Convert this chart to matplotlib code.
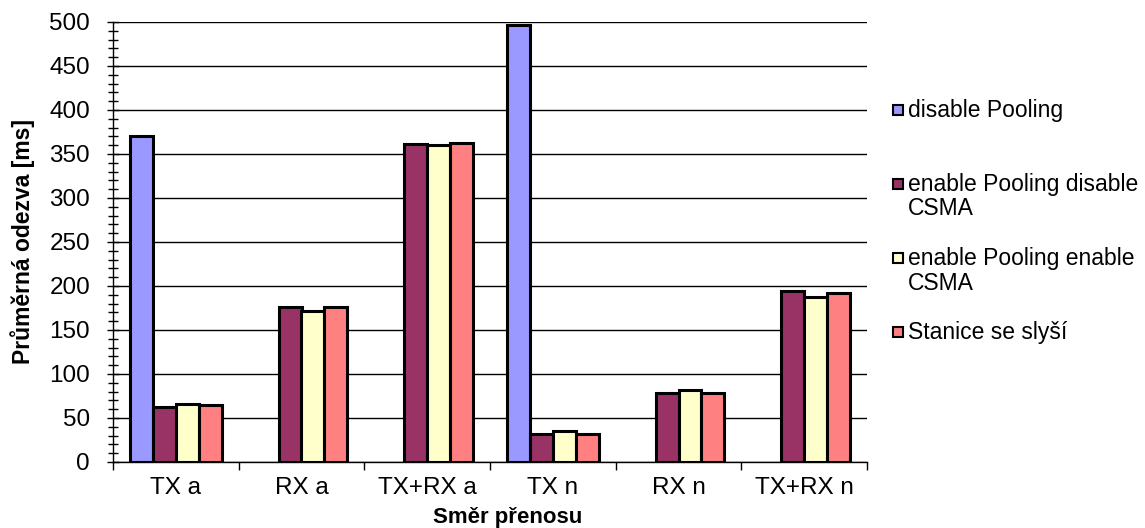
import numpy as np
import matplotlib
matplotlib.use("Agg")
import matplotlib.pyplot as plt
from matplotlib.patches import Rectangle
from matplotlib.ticker import MultipleLocator, FixedLocator, NullFormatter

plt.rcParams['font.family'] = ['Liberation Sans', 'DejaVu Sans']

# Response times per transfer direction [ms]
categories = ["TX a", "RX a", "TX+RX a", "TX n", "RX n", "TX+RX n"]
series_names = [
    "disable Pooling",
    "enable Pooling disable\nCSMA",
    "enable Pooling enable\nCSMA",
    "Stanice se slyší",
]
disable_pooling = [371, np.nan, np.nan, 497, np.nan, np.nan]
pooling_no_csma = [63, 176, 361, 32, 78.5, 194.5]
pooling_csma = [66, 172, 360, 35, 82.3, 188]
stations_hear = [65, 176, 362, 32, 78.5, 192.6]
series_values = [disable_pooling, pooling_no_csma, pooling_csma, stations_hear]
series_colors = ["#9999FF", "#993366", "#FFFFCC", "#FF8080"]

y_ticks = list(range(0, 501, 50))

W, H = 1145, 528
fig = plt.figure(figsize=(W / 100, H / 100), dpi=100)
ax = fig.add_axes([113 / W, 1 - 462 / H, (867 - 113) / W, (462 - 22) / H])

n = len(categories)
x = np.arange(n)
width = 1 / 5.5
offsets = (np.arange(len(series_values)) - 1.5) * width
for vals, off, col in zip(series_values, offsets, series_colors):
    ax.bar(x + off, vals, width=width, color=col, edgecolor="black",
           linewidth=2.2, zorder=3)

ax.set_xlim(-0.5, n - 0.5)
ax.set_ylim(0, 500)

# horizontal gridlines
ax.set_yticks(y_ticks)
ax.yaxis.set_minor_locator(MultipleLocator(10))
ax.grid(axis="y", which="major", color="black", linewidth=1.0, zorder=0)
ax.set_axisbelow(True)

ax.tick_params(axis="y", which="major", direction="inout", length=9, width=1,
               pad=12, labelsize=17.5)
ax.tick_params(axis="y", which="minor", direction="inout", length=7, width=1)

# category boundaries as ticks, names centred between them
ax.xaxis.set_major_locator(FixedLocator(np.arange(n + 1) - 0.5))
ax.xaxis.set_major_formatter(NullFormatter())
ax.xaxis.set_minor_locator(FixedLocator(x))
ax.set_xticks(x, categories, minor=True)
ax.tick_params(axis="x", which="major", direction="out", length=5.5, width=1)
ax.tick_params(axis="x", which="minor", length=0, pad=11, labelsize=17.5)

for side in ("top", "right"):
    ax.spines[side].set_visible(False)
ax.spines["left"].set_linewidth(1.0)
ax.spines["bottom"].set_linewidth(1.0)
ax.spines["left"].set_zorder(4)
ax.spines["bottom"].set_zorder(4)

ax.set_ylabel("Průměrná odezva [ms]", fontsize=16.5, fontweight="bold")
ax.yaxis.set_label_coords(-(113 - 35) / (867 - 113), 0.5)
fig.text(507.5 / W, 1 - 517 / H, "Směr přenosu", fontsize=16,
         fontweight="bold", ha="center", va="center")

# legend on the right
for i, (name, col) in enumerate(zip(series_names, series_colors)):
    yc = 110 + 74 * i
    fig.patches.append(Rectangle((893 / W, 1 - (yc + 5) / H), 10 / W, 10 / H,
                                 transform=fig.transFigure, facecolor=col,
                                 edgecolor="black", linewidth=1.5))
    for j, line in enumerate(name.split("\n")):
        fig.text(908 / W, 1 - (yc + 25 * j) / H, line, fontsize=16.5,
                 ha="left", va="center")

fig.savefig("out.png", dpi=100)
